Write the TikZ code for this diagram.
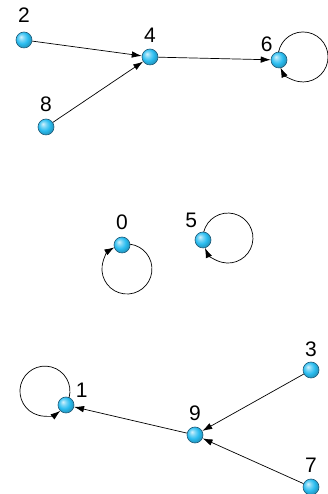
\documentclass[tikz,border=0pt]{standalone}
\usepackage{fontspec}
\setmainfont{Liberation Sans}
\usepackage{xcolor}
\usepackage{tikz}
\usetikzlibrary{arrows.meta}
\definecolor{palla}{HTML}{2BBDF0}
\definecolor{bordo}{HTML}{1F5A78}
\pgfdeclareradialshading{pallaluce}{\pgfqpoint{-10bp}{10bp}}{%
    color(0bp)=(white!80!palla); color(9bp)=(white!35!palla);
    color(18bp)=(palla); color(25bp)=(palla!85!black); color(50bp)=(palla!50!black)}

\begin{document}
\begin{tikzpicture}[x=1pt,y=1pt,
    vertice/.style={circle, draw=bordo, line width=0.6pt, shading=pallaluce,
        minimum size=16pt, inner sep=0pt},
    lbl/.style={font=\fontsize{21}{24}\selectfont, inner sep=1pt},
    freccia/.style={line width=0.7pt, -{Latex[length=10pt,width=6.5pt]}}]
        \useasboundingbox (0,0) rectangle (327,494);
        % componente in alto
        \node[vertice, label={[lbl,label distance=8pt]above:2}] (n2) at (24,454) {};
        \node[vertice, label={[lbl,label distance=5pt]above:4}] (n4) at (150,437) {};
        \node[vertice, label={[lbl,label distance=2pt,xshift=2pt]above left:6}] (n6) at (279,434) {};
        \node[vertice, label={[lbl,label distance=6pt]above:8}] (n8) at (46,367) {};
        \draw[freccia] (n2) -- (n4);
        \draw[freccia] (n8) -- (n4);
        \draw[freccia] (n4) -- (n6);
        \draw[freccia] (n6) ++(-0.5,7.8) arc[start angle=169, end angle=-155, radius=25];
        % punti fissi isolati
        \node[vertice, label={[lbl,label distance=6pt]above:0}] (n0) at (122,249) {};
        \node[vertice, label={[lbl,label distance=7pt,xshift=6pt]above left:5}] (n5) at (203,254) {};
        \draw[freccia] (n0) ++(8,0.8) arc[start angle=83, end angle=-240, radius=25];
        \draw[freccia] (n5) ++(0.7,8) arc[start angle=166, end angle=-157, radius=25];
        % componente in basso
        \node[vertice, label={[lbl,label distance=1pt,xshift=2pt]above right:1}] (n1) at (66,89) {};
        \node[vertice, label={[lbl,label distance=5pt]above:9}] (n9) at (195,59) {};
        \node[vertice, label={[lbl,label distance=4pt]above:3}] (n3) at (311,124) {};
        \node[vertice, label={[lbl,label distance=5pt]above:7}] (n7) at (311,7) {};
        \draw[freccia] (n3) -- (n9);
        \draw[freccia] (n7) -- (n9);
        \draw[freccia] (n9) -- (n1);
        \draw[freccia] (n1) ++(3.1,7.4) arc[start angle=-15, end angle=308, radius=25];
    \end{tikzpicture}
\end{document}
